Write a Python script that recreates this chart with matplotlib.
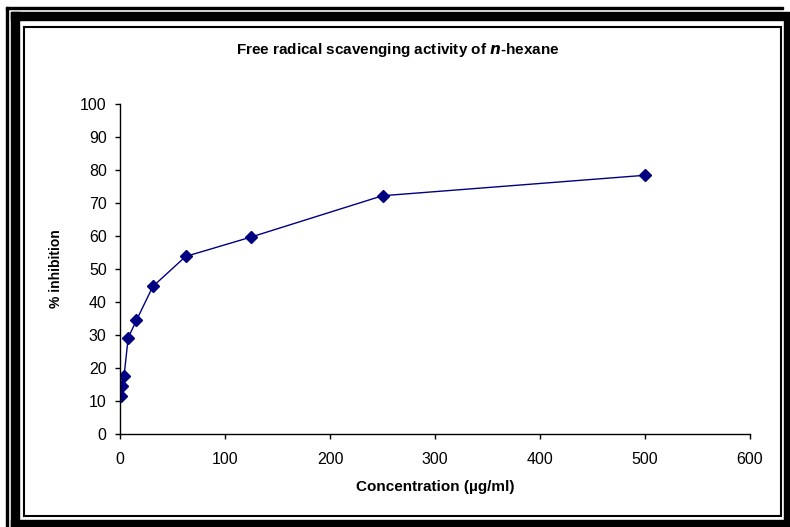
import numpy as np
import matplotlib
matplotlib.use('Agg')
import matplotlib.pyplot as plt
from matplotlib.patches import Rectangle

plt.rcParams['font.family'] = ['Liberation Sans', 'DejaVu Sans']

# concentration (ug/ml) and % inhibition
conc = [0.98, 1.95, 3.9, 7.8, 15.6, 31.25, 62.5, 125, 250, 500]
inhibition = [11.4, 14.6, 17.7, 29.2, 34.4, 44.7, 53.8, 59.7, 72.2, 78.4]
x_ticks = [0, 100, 200, 300, 400, 500, 600]
y_ticks = [0, 10, 20, 30, 40, 50, 60, 70, 80, 90, 100]

W, H = 790, 527
fig = plt.figure(figsize=(W / 100, H / 100), dpi=100)

# frame around the picture, drawn in pixel coords on a background axes
bg = fig.add_axes([0, 0, 1, 1], zorder=-1)
bg.set_xlim(0, W)
bg.set_ylim(H, 0)
bg.axis('off')
# outer thin line
bg.add_patch(Rectangle((6, 7), 777, 2, color='black'))
bg.add_patch(Rectangle((6, 7), 2, H - 7, color='black'))
# thick band
bg.add_patch(Rectangle((11, 12), W - 11, 8, color='black'))
bg.add_patch(Rectangle((11, 12), 8, H - 12, color='black'))
bg.add_patch(Rectangle((784, 20), 6, H - 20, color='black'))
bg.add_patch(Rectangle((11, 520), W - 11, 7, color='black'))
# inner thin box
bg.add_patch(Rectangle((24, 27), 757, 489, fill=False, edgecolor='black', linewidth=1.5))

ax = fig.add_axes([120 / W, 1 - 434 / H, 630 / W, 330 / H])
ax.plot(conc, inhibition, color='#000080', linewidth=1, marker='D',
        markersize=6, markerfacecolor='#000080', markeredgecolor='#000080')

ax.set_xlim(0, 600)
ax.set_ylim(0, 100)
ax.set_xticks(x_ticks)
ax.set_yticks(y_ticks)
ax.tick_params(direction='out', length=3.6, width=1, labelsize=11.5, colors='black')
ax.tick_params(axis='x', pad=9)
ax.tick_params(axis='y', pad=6)
for s in ['top', 'right']:
    ax.spines[s].set_visible(False)
for s in ['left', 'bottom']:
    ax.spines[s].set_linewidth(1)

ax.set_xlabel('Concentration (\u00b5g/ml)', fontsize=11, fontweight='bold')
ax.set_ylabel('% inhibition', fontsize=10, fontweight='bold')
ax.xaxis.set_label_coords(0.5, (434 - 480) / 330)
ax.yaxis.set_label_coords((63 - 120) / 630, 0.5)
fig.text(398 / W, 1 - 50 / H, 'Free radical scavenging activity of $\\mathbfit{n}$-hexane',
         ha='center', va='center', fontsize=11, fontweight='bold')

fig.savefig('out.png', dpi=100)
